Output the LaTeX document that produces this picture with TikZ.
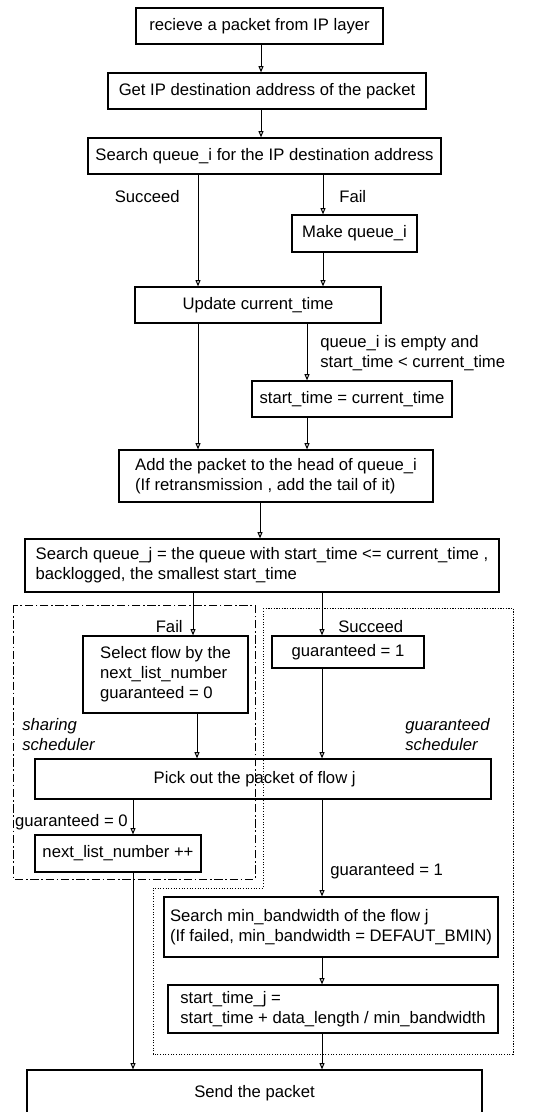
\documentclass[tikz,border=0pt]{standalone}
\usepackage{fontspec}
\setmainfont{Liberation Sans}
\usetikzlibrary{arrows.meta}

\tikzset{
  box/.style={draw, line width=0.7pt, inner sep=0pt, align=center},
  lbox/.style={box, align=left},
  arr/.style={-{Triangle[open,length=3.8pt,width=3pt]}, line width=0.6pt},
  lbl/.style={inner sep=0pt, align=left},
  sharing/.style={line width=0.6pt, dash pattern=on 5pt off 1.6pt on 1pt off 1.6pt},
  guarded/.style={line width=0.6pt, dash pattern=on 0.7pt off 0.9pt},
}

\begin{document}
\begin{tikzpicture}[x=0.6pt, y=-0.6pt, font=\fontsize{10}{12}\selectfont]
    \clip (0,0) rectangle (536,1112);
    % columns of the connectors
    \coordinate (xtop) at (261,0);
    \coordinate (xsucc) at (198,0);
    \coordinate (xfail) at (323,0);
    \coordinate (xset) at (307,0);
    \coordinate (xadd) at (260,0);
    \coordinate (xshare) at (193,0);
    \coordinate (xsel) at (197,0);
    \coordinate (xguar) at (322,0);
    \coordinate (xnext) at (133,0);
    % receiving and queueing
    \node[box, minimum width=148.2pt, minimum height=21.6pt] (recv) at (259.5,26) {recieve a packet from IP layer};
    \node[box, minimum width=190.8pt, minimum height=21.6pt] (getip) at (267,91) {Get IP destination address of the packet};
    \node[box, minimum width=211.8pt, minimum height=21.6pt] (searchi) at (264.5,156) {Search queue\_i for the IP destination address};
    \node[box, minimum width=75pt, minimum height=22.2pt] (makeq) at (354.5,233.5) {Make queue\_i};
    \node[box, minimum width=147.6pt, minimum height=21.6pt] (update) at (258,305) {Update current\_time};
    \node[box, minimum width=120pt, minimum height=21.6pt] (settime) at (352,399) {start\_time = current\_time};
    \node[lbox, minimum width=188.4pt, minimum height=31.2pt] (addpkt) at (276,476) {Add the packet to the head of queue\_i\\(If retransmission , add the tail of it)};
    \node[lbox, minimum width=284.4pt, minimum height=31.8pt] (searchj) at (262,565.5) {Search queue\_j = the queue with start\_time <= current\_time ,\\backlogged, the smallest start\_time};
    % schedulers
    \node[lbox, minimum width=99pt, minimum height=46.2pt] (select) at (165.5,674.5) {Select flow by the\\next\_list\_number\\guaranteed = 0};
    \node[box, minimum width=91.2pt, minimum height=19.2pt] (guar1) at (348,652) {guaranteed = 1};
    \node[box, minimum width=273.6pt, minimum height=24pt] (pick) at (263,779) {Pick out the packet of flow j\hspace*{10pt}};
    \node[box, minimum width=99.6pt, minimum height=22.2pt] (nextlist) at (118,853.5) {next\_list\_number ++};
    \node[lbox, minimum width=200.4pt, minimum height=36pt] (searchmin) at (331,927) {Search min\_bandwidth of the flow j\\(If failed, min\_bandwidth = DEFAUT\_BMIN)};
    \node[lbox, minimum width=198pt, minimum height=28.8pt] (startj) at (333,1009) {start\_time\_j =\\start\_time + data\_length / min\_bandwidth};
    \node[box, minimum width=273pt, minimum height=27.6pt] (send) at (254.5,1093) {Send the packet};
    % connectors
    \draw[arr] (recv.south -| xtop) -- (getip.north -| xtop);
    \draw[arr] (getip.south -| xtop) -- (searchi.north -| xtop);
    \draw[arr] (searchi.south -| xsucc) -- (update.north -| xsucc);
    \draw[arr] (searchi.south -| xfail) -- (makeq.north -| xfail);
    \draw[arr] (makeq.south -| xfail) -- (update.north -| xfail);
    \draw[arr] (update.south -| xsucc) -- (addpkt.north -| xsucc);
    \draw[arr] (update.south -| xset) -- (settime.north -| xset);
    \draw[arr] (settime.south -| xset) -- (addpkt.north -| xset);
    \draw[arr] (addpkt.south -| xadd) -- (searchj.north -| xadd);
    \draw[arr] (searchj.south -| xshare) -- (select.north -| xshare);
    \draw[arr] (searchj.south -| xguar) -- (guar1.north -| xguar);
    \draw[arr] (select.south -| xsel) -- (pick.north -| xsel);
    \draw[arr] (guar1.south -| xguar) -- (pick.north -| xguar);
    \draw[arr] (pick.south -| xnext) -- (nextlist.north -| xnext);
    \draw[arr] (pick.south -| xguar) -- (searchmin.north -| xguar);
    \draw[arr] (searchmin.south -| xguar) -- (startj.north -| xguar);
    \draw[arr] (startj.south -| xguar) -- (send.north -| xguar);
    \draw[arr] (nextlist.south -| xnext) -- (send.north -| xnext);
    % labels
    \node[lbl, anchor=east] (lsucc) at (180,197) {Succeed};
    \node[lbl, anchor=west] (lfail) at (339,197) {Fail};
    \node[lbl, anchor=west] (lempty) at (320,353) {queue\_i is empty and\\start\_time < current\_time};
    \node[lbl, anchor=east] (lfailj) at (183,627) {Fail};
    \node[lbl, anchor=west] (lsuccj) at (338,627) {Succeed};
    \node[lbl, anchor=west, font=\fontsize{10}{12}\selectfont\itshape] (lshare) at (22,735) {sharing\\scheduler};
    \node[lbl, anchor=west, font=\fontsize{10}{12}\selectfont\itshape] (lguar) at (405,735) {guaranteed\\scheduler};
    \node[lbl, anchor=east] (lg0) at (128,822) {guaranteed = 0};
    \node[lbl, anchor=west] (lg1) at (330,871) {guaranteed = 1};
    % scheduler regions
    \draw[sharing] (13,605) rectangle (255,879);
    \draw[guarded] (263,608) -- (513,608) -- (513,1054) -- (153,1054) -- (153,888) -- (263,888) -- cycle;
\end{tikzpicture}
\end{document}
